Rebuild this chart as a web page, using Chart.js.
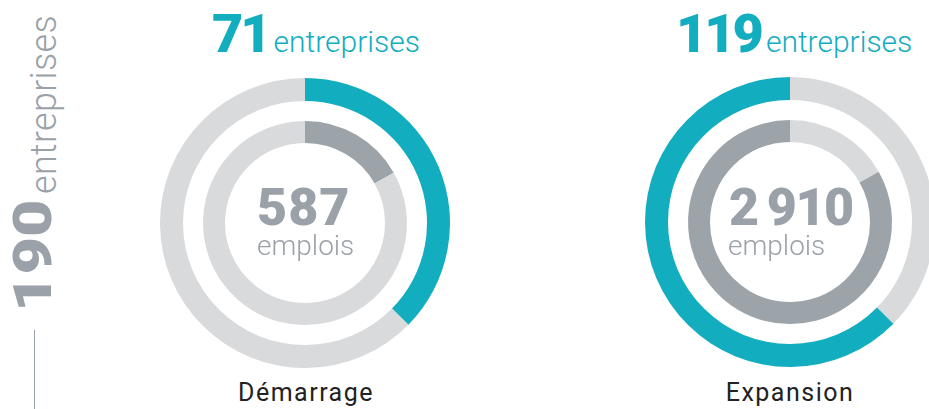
<!DOCTYPE html>
<html>
<head>
<meta charset="utf-8">
<script src="https://cdn.jsdelivr.net/npm/chart.js@4.4.1/dist/chart.umd.min.js"></script>
<style>
    html, body { margin: 0; padding: 0; background: #fff; overflow: hidden; }
    body { width: 929px; height: 409px; position: relative; font-family: Roboto, sans-serif; }
    .abs { position: absolute; white-space: nowrap; }
    .teal { color: #12adbf; }
    .grey { color: #9aa1a8; }
    .big { font-weight: 900; }
    .light { font-weight: 300; }
    .ring { position: absolute; width: 290px; height: 290px; }
</style>
</head>
<body>

<!-- total vertical -->
<div class="abs grey big" id="totalNum" style="left:6px; top:312px; transform:rotate(-90deg) scaleX(1.2); transform-origin:0 0; font-size:54px; line-height:54px;"></div>
<div class="abs grey light" style="left:26px; top:194px; transform:rotate(-90deg); transform-origin:0 0; font-size:36px; line-height:36px; letter-spacing:0.3px;">entreprises</div>
<div class="abs" style="left:34px; top:330px; width:1px; height:79px; background:#9aa1a8;"></div>

<div class="abs teal" id="title0" style="left:212px; top:7px; font-size:54px; line-height:54px;"></div>
<div class="abs teal" id="title1" style="left:676px; top:7px; font-size:54px; line-height:54px;"></div>

<div class="ring" style="left:160px; top:78px;"><canvas id="ring0" width="290" height="290"></canvas></div>
<div class="ring" style="left:645px; top:77px;"><canvas id="ring1" width="290" height="290"></canvas></div>

<div class="abs grey big" id="num0" style="left:257px; top:182px; font-size:52px; line-height:52px; letter-spacing:1px;"></div>
<div class="abs grey light" style="left:257px; top:232px; font-size:28px; line-height:28px;">emplois</div>
<div class="abs grey big" id="num1" style="left:729px; top:182px; font-size:52px; line-height:52px; letter-spacing:-1.5px;"></div>
<div class="abs grey light" style="left:728px; top:232px; font-size:28px; line-height:28px;">emplois</div>

<div class="abs" id="label0" style="left:306px; top:380px; font-size:25px; line-height:25px; color:#222; transform:translateX(-50%); letter-spacing:1.5px;"></div>
<div class="abs" id="label1" style="left:790px; top:380px; font-size:25px; line-height:25px; color:#222; transform:translateX(-50%); letter-spacing:1.5px;"></div>

<script>
// Données
const stages = ['Démarrage', 'Expansion'];
const entreprises = [71, 119];
const emplois = [587, 2910];
const totalEntreprises = 190;

const teal = '#12adbf';
const lightGrey = '#d9dadc';
const darkGrey = '#9ca3a9';

document.getElementById('totalNum').textContent = totalEntreprises;

function createRing(i) {
    // anneau extérieur : entreprises, anneau intérieur : emplois
    const outerColors = i === 0 ? [teal, lightGrey] : [lightGrey, teal];
    const innerColors = i === 0 ? [darkGrey, lightGrey] : [lightGrey, darkGrey];

    const ctx = document.getElementById('ring' + i).getContext('2d');
    return new Chart(ctx, {
        type: 'doughnut',
        data: {
            labels: stages,
            datasets: [{
                data: entreprises,
                backgroundColor: outerColors,
                borderWidth: 0,
                weight: 23
            }, {
                data: [1],
                backgroundColor: 'rgba(0,0,0,0)',
                borderWidth: 0,
                weight: 20
            }, {
                data: emplois,
                backgroundColor: innerColors,
                borderWidth: 0,
                weight: 22
            }]
        },
        options: {
            responsive: false,
            animation: false,
            events: [],
            cutout: 80,
            hoverOffset: 0,
            layout: { padding: 0 },
            plugins: {
                legend: { display: false },
                tooltip: { enabled: false }
            }
        }
    });
}

for (let i = 0; i < stages.length; i++) {
    createRing(i);
    document.getElementById('title' + i).innerHTML =
        '<span class="big" style="letter-spacing:-3px;">' + entreprises[i] + '</span>' +
        '<span class="light" style="font-size:30px; margin-left:5px;">entreprises</span>';
    document.getElementById('num' + i).textContent = emplois[i].toLocaleString('fr-FR').replace(/\s/g, '\u2009');
    document.getElementById('label' + i).textContent = stages[i];
}
</script>
</body>
</html>
